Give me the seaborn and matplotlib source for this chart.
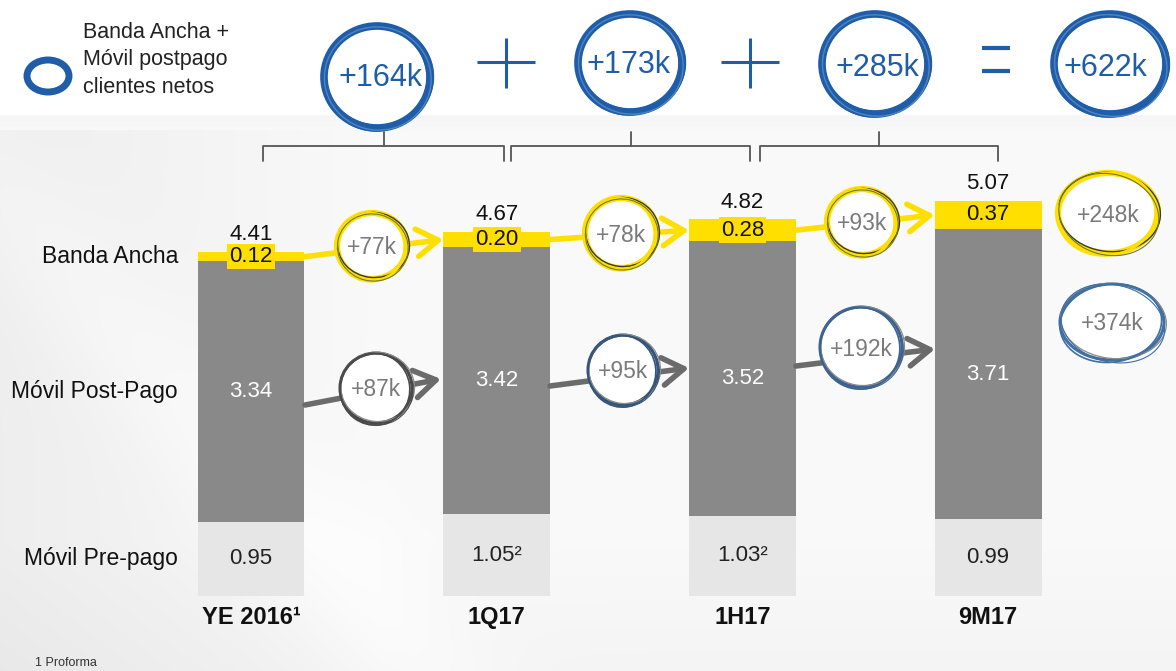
import numpy as np
import pandas as pd
import matplotlib
matplotlib.use("Agg")
import matplotlib.pyplot as plt
import seaborn as sns
from matplotlib.patches import Ellipse, FancyArrowPatch

# ---------------- data ----------------
periods = ["YE 2016", "1Q17", "1H17", "9M17"]
period_labels = ["YE 2016\u00b9", "1Q17", "1H17", "9M17"]
prepago = [0.95, 1.05, 1.03, 0.99]
prepago_labels = ["0.95", "1.05\u00b2", "1.03\u00b2", "0.99"]
postpago = [3.34, 3.42, 3.52, 3.71]
banda = [0.12, 0.20, 0.28, 0.37]
totals = [4.41, 4.67, 4.82, 5.07]
banda_net = [77, 78, 93, 248]        # k, last = cumulative
post_net = [87, 95, 192, 374]        # k, last = cumulative
combined_net = [164, 173, 285, 622]  # k
row_labels = ["Banda Ancha", "Móvil Post-Pago", "Móvil Pre-pago"]
legend_text = "Banda Ancha +\nMóvil postpago\nclientes netos"
footnote = "1 Proforma"

# ---------------- style ----------------
sns.set_theme(style="white")
plt.rcParams["font.family"] = ["Liberation Sans", "DejaVu Sans"]

YELLOW = "#FFDF00"
DARK = "#898989"
LIGHT = "#E6E6E6"
BLUE = "#1F5DA8"
TXTGRAY = "#7a7a7a"

W, H = 1176, 671
fig = plt.figure(figsize=(W / 100, H / 100), dpi=100)

# background
bg = fig.add_axes([0, 0, 1, 1])
bg.set_axis_off()
yy, xx = np.mgrid[0:H, 0:W]
val = np.full((H, W), 0.978)
val -= 0.045 * np.clip(1 - xx / 380.0, 0, 1) * (yy > 115)
val -= 0.02 * np.clip((yy - 540) / 130.0, 0, 1)
val += 0.02 * np.exp(-((xx - 0.9 * (yy - 200)) ** 2) / 8000.0) * (yy > 115)
val[yy < 115] = 1.0
trans = (yy >= 115) & (yy < 130)
val[trans] = 0.965 + 0.01 * (yy[trans] - 115) / 15.0
val = np.clip(val, 0, 1)
bg.imshow(np.dstack([val, val, val]), extent=(0, W, H, 0), aspect="auto")
bg.set_xlim(0, W)
bg.set_ylim(H, 0)

# main data axes (pixel mapping: bar centres ~251..988, baseline y=596, 78 px/unit)
ax = fig.add_axes([0, 0, 1, 1])
ax.patch.set_alpha(0)
bw = 0.435
df = pd.DataFrame({
    "period": periods,
    "pre": prepago,
    "prepost": np.array(prepago) + np.array(postpago),
    "total": np.array(prepago) + np.array(postpago) + np.array(banda),
})
for col, c in [("total", YELLOW), ("prepost", DARK), ("pre", LIGHT)]:
    sns.barplot(data=df, x="period", y=col, order=periods, color=c,
                saturation=1, width=bw, errorbar=None, linewidth=0, ax=ax)

spacing = 245.7
x0px, y0px, ppu = 251, 596, 78.0
ax.set_xlim(-x0px / spacing, (W - x0px) / spacing)
ax.set_ylim(-(H - y0px) / ppu, y0px / ppu)
ax.set_axis_off()

fs = 16
for i in range(4):
    pre, post, ba = prepago[i], postpago[i], banda[i]
    top = pre + post + ba
    ax.text(i, pre / 2, prepago_labels[i], ha="center", va="center", fontsize=fs, color="#222222")
    ax.text(i, pre + post / 2, f"{post:.2f}", ha="center", va="center", fontsize=fs, color="white")
    ax.text(i, pre + post + ba / 2, f"{ba:.2f}", ha="center", va="center", fontsize=fs, color="#111111",
            bbox=dict(boxstyle="square,pad=0.1", fc=YELLOW, ec="none"))
    ax.text(i, top + 0.22, f"{totals[i]:.2f}", ha="center", va="center", fontsize=fs, color="#111111")
    ax.text(i, -0.27, period_labels[i], ha="center", va="center", fontsize=17, fontweight="bold", color="#111111")

lx = (178 - x0px) / spacing
ax.text(lx, prepago[0] + postpago[0] + banda[0] / 2, row_labels[0], ha="right", va="center", fontsize=16.5, color="#111111")
ax.text(lx, prepago[0] + postpago[0] / 2, row_labels[1], ha="right", va="center", fontsize=16.5, color="#111111")
ax.text(lx, prepago[0] / 2, row_labels[2], ha="right", va="center", fontsize=16.5, color="#111111")

# yellow arrows between Banda Ancha segments
for i in range(3):
    ya = prepago[i] + postpago[i] + banda[i] / 2
    yb = prepago[i + 1] + postpago[i + 1] + banda[i + 1] / 2
    arr = FancyArrowPatch((i + bw / 2, ya), (i + 1 - bw / 2, yb),
                          arrowstyle="->,head_length=0.7,head_width=0.45", mutation_scale=22,
                          lw=4, color=YELLOW, shrinkA=0, shrinkB=0, zorder=1)
    ax.add_patch(arr)

# decoration overlay in pixel coordinates
deco = fig.add_axes([0, 0, 1, 1])
deco.patch.set_alpha(0)
deco.set_xlim(0, W)
deco.set_ylim(H, 0)
deco.set_axis_off()

# gray arrows for post-pago
for (xa, ya), (xb, yb) in [((305, 405), (441, 379)), ((550, 386), (689, 368)), ((796, 366), (935, 349))]:
    deco.add_patch(FancyArrowPatch((xa, ya), (xb, yb),
                                   arrowstyle="->,head_length=0.7,head_width=0.45", mutation_scale=22,
                                   lw=4, color="#6b6b6b", shrinkA=0, shrinkB=0, zorder=1))

jit = [(0, 0, 0, 0, 0), (1.5, -1.0, 2, -1, 6), (-1.2, 1.2, -2, 2, -8), (0.8, 1.5, 1, 1, 14)]


def sketch(cx, cy, rx, ry, strokes, fill="white"):
    deco.add_patch(Ellipse((cx, cy), 2 * rx, 2 * ry, fc=fill, ec="none", zorder=2))
    for k, (col, lw) in enumerate(strokes):
        dx, dy, drx, dry, ang = jit[k % len(jit)]
        deco.add_patch(Ellipse((cx + dx, cy + dy), 2 * rx + drx, 2 * ry + dry, angle=ang,
                               fc="none", ec=col, lw=lw, zorder=3))


ysk = [(YELLOW, 4.5), ("#3b3b2a", 1.0), (YELLOW, 2.0), ("#6d7a3a", 0.8)]
for (cx, cy, rx, ry), v in zip([(372, 246, 35, 33), (621, 233, 36, 35), (862, 222, 35, 33), (1108, 213, 50, 40)], banda_net):
    sketch(cx, cy, rx, ry, ysk)
    deco.text(cx, cy + 2, f"+{v}k", ha="center", va="center", fontsize=16.5, color=TXTGRAY, zorder=4)

gcols = ["#4a4a4a", "#35557a", "#3d6391", "#3f6fa3"]
for (cx, cy, rx, ry), v, gc in zip([(376, 388, 36, 35), (623, 370, 35, 35), (861, 347, 41, 40), (1112, 322, 52, 38)],
                                   post_net, gcols):
    sketch(cx, cy, rx, ry, [(gc, 2.2), ("#8a8a8a", 0.9), (gc, 1.2), (gc, 0.8)])
    deco.text(cx, cy + 2, f"+{v}k", ha="center", va="center", fontsize=16.5, color=TXTGRAY, zorder=4)

# top row: combined net adds
bsk = [(BLUE, 5.5), (BLUE, 2.5), (BLUE, 2.0), ("#4f84c4", 1.0)]
for (cx, cy, rx, ry), (tx, ty), v in zip([(377, 77, 53, 51), (630, 63, 52, 49), (875, 64, 53, 50), (1110, 64, 56, 50)],
                                         [(380, 78), (628, 65), (877, 68), (1105, 68)], combined_net):
    sketch(cx, cy, rx, ry, bsk)
    deco.text(tx, ty, f"+{v}k", ha="center", va="center", fontsize=22, color=BLUE, zorder=4)

for cx in (506, 750):
    deco.plot([cx - 29, cx + 29], [62, 62], color=BLUE, lw=2.2, solid_capstyle="butt")
    deco.plot([cx, cx], [38, 88], color=BLUE, lw=2.2, solid_capstyle="butt")
deco.plot([982, 1010], [48, 48], color=BLUE, lw=3, solid_capstyle="butt")
deco.plot([982, 1010], [71, 71], color=BLUE, lw=3, solid_capstyle="butt")

# legend
deco.add_patch(Ellipse((48, 76), 42, 32, fc="none", ec=BLUE, lw=5))
deco.text(83, 60, legend_text, ha="left", va="center", fontsize=15.5, color="#222222", linespacing=1.42)

# brackets
for xa, xb in [(263, 504), (511, 750), (760, 998)]:
    xm = (xa + xb) / 2
    deco.plot([xa, xa, xb, xb], [161, 146, 146, 161], color="#555555", lw=1.3)
    deco.plot([xm, xm], [146, 132], color="#555555", lw=1.3)

deco.text(35, 669, footnote, ha="left", va="bottom", fontsize=9, color="#333333")

fig.savefig("out.png", dpi=100)
